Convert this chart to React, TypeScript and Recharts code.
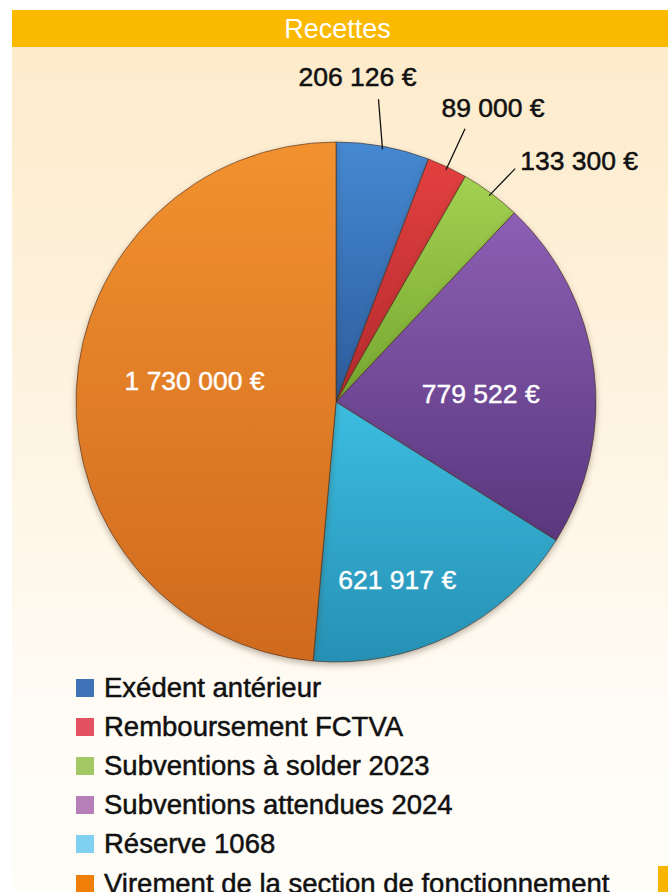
import { PieChart, Pie, Cell } from "recharts";

const categories = [
  "Exédent antérieur",
  "Remboursement FCTVA",
  "Subventions à solder 2023",
  "Subventions attendues 2024",
  "Réserve 1068",
  "Virement de la section de fonctionnement",
];
const amounts = [206126, 89000, 133300, 779522, 621917, 1730000];
const valueLabels = ["206 126 €", "89 000 €", "133 300 €", "779 522 €", "621 917 €", "1 730 000 €"];

const sliceTop = ["#4589d2", "#e2403f", "#a2d050", "#8c5fb4", "#3cbde0", "#f2912f"];
const sliceBottom = ["#2c5c9c", "#b42a2e", "#76a630", "#5a377e", "#2690b4", "#cf6a1e"];
const legendColors = ["#3e73b8", "#e5525f", "#a3c966", "#b77fb8", "#80d0f2", "#f07f0a"];

const FONT = "'Liberation Sans', Arial, sans-serif";
const RAD = Math.PI / 180;

const data = categories.map((name, i) => ({ name, value: amounts[i] }));

function polar(cx: number, cy: number, r: number, deg: number) {
  return { x: cx + r * Math.cos(-deg * RAD), y: cy + r * Math.sin(-deg * RAD) };
}

// leader lines for the three thin slices, placement tweaks for the big ones
const outside: Record<number, { lx: number; ly: number; tx: number; ty: number; anchor: "middle" | "start" }> = {
  0: { lx: -4, ly: -50, tx: -21, ty: -22, anchor: "middle" },
  1: { lx: 19, ly: -41, tx: 28, ty: -21, anchor: "middle" },
  2: { lx: 26, ly: -27, tx: 5, ty: -8, anchor: "start" },
};
const inside: Record<number, { r: number; nudge: number }> = {
  3: { r: 145, nudge: -4.0 },
  4: { r: 188, nudge: -7.4 },
  5: { r: 143, nudge: -5.9 },
};

const textStyle = { paintOrder: "stroke" as const };

function renderLabel(props: any) {
  const { cx, cy, midAngle, outerRadius, index } = props;
  const text = valueLabels[index];
  const o = outside[index];
  if (o) {
    const s = polar(cx, cy, outerRadius - 3, midAngle);
    const e = { x: s.x + o.lx, y: s.y + o.ly };
    return (
      <g key={`l-${index}`}>
        <line x1={s.x} y1={s.y} x2={e.x} y2={e.y} stroke="#111" strokeWidth={1.3} />
        <text
          x={e.x + o.tx}
          y={e.y + o.ty}
          textAnchor={o.anchor}
          dominantBaseline="central"
          fill="#111"
          stroke="#111"
          strokeWidth={0.5}
          style={textStyle}
          fontSize={26.5}
          fontFamily={FONT}
        >
          {text}
        </text>
      </g>
    );
  }
  const p = inside[index];
  const pt = polar(cx, cy, p.r, midAngle + p.nudge);
  return (
    <text
      key={`l-${index}`}
      x={pt.x}
      y={pt.y}
      textAnchor="middle"
      dominantBaseline="central"
      fill="#fff"
      stroke="#fff"
      strokeWidth={0.4}
      style={textStyle}
      fontSize={26.5}
      fontFamily={FONT}
    >
      {text}
    </text>
  );
}

export default function App() {
  return (
    <div
      style={{
        position: "absolute",
        left: 0,
        top: 0,
        width: 668,
        height: 892,
        overflow: "hidden",
        background: "#fff",
      }}
    >
      <div
        style={{
          position: "absolute",
          left: 12,
          top: 47,
          width: 656,
          height: 845,
          background: "linear-gradient(to bottom, #fdebcb 0%, #fef4e2 45%, #fffcf6 80%, #fffdf8 100%)",
        }}
      />
      <div
        style={{
          position: "absolute",
          left: 12,
          top: 10,
          width: 656,
          height: 37,
          background: "#fbb900",
          color: "#fff",
          fontFamily: FONT,
          fontSize: 27,
          lineHeight: "38px",
          textAlign: "center",
          paddingRight: 5,
          boxSizing: "border-box",
        }}
      >
        Recettes
      </div>
      <div
        style={{ position: "absolute", left: 658, top: 866, width: 10, height: 26, background: "#f7b500" }}
      />
      <div style={{ position: "absolute", left: 0, top: 47 }}>
        <style>{`.recharts-pie-sector { filter: drop-shadow(0px 3px 3px rgba(70,45,20,0.35)); }`}</style>
        <PieChart width={668} height={630} margin={{ top: 0, right: 0, bottom: 0, left: 0 }}>
          <defs>
            {sliceTop.map((c, i) => (
              <linearGradient key={i} id={`sl-${i}`} x1="0" y1="0" x2="0" y2="1">
                <stop offset="0%" stopColor={c} />
                <stop offset="100%" stopColor={sliceBottom[i]} />
              </linearGradient>
            ))}
          </defs>
          <Pie
            data={data}
            dataKey="value"
            nameKey="name"
            cx={336}
            cy={355}
            outerRadius={260}
            startAngle={90}
            endAngle={-270}
            stroke="rgba(70,45,30,0.6)"
            strokeWidth={1}
            label={renderLabel}
            labelLine={false}
            isAnimationActive={false}
          >
            {data.map((d, i) => (
              <Cell key={d.name} fill={`url(#sl-${i})`} />
            ))}
          </Pie>
        </PieChart>
      </div>
      <div style={{ position: "absolute", left: 76, top: 668, fontFamily: FONT }}>
        {categories.map((c, i) => (
          <div key={c} style={{ display: "flex", alignItems: "center", height: 39.2 }}>
            <span
              style={{ width: 18, height: 18, background: legendColors[i], display: "inline-block", marginRight: 10 }}
            />
            <span
              style={{
                fontSize: 27.5,
                color: "#111",
                whiteSpace: "nowrap",
                WebkitTextStroke: "0.5px #111",
              }}
            >
              {c}
            </span>
          </div>
        ))}
      </div>
    </div>
  );
}
